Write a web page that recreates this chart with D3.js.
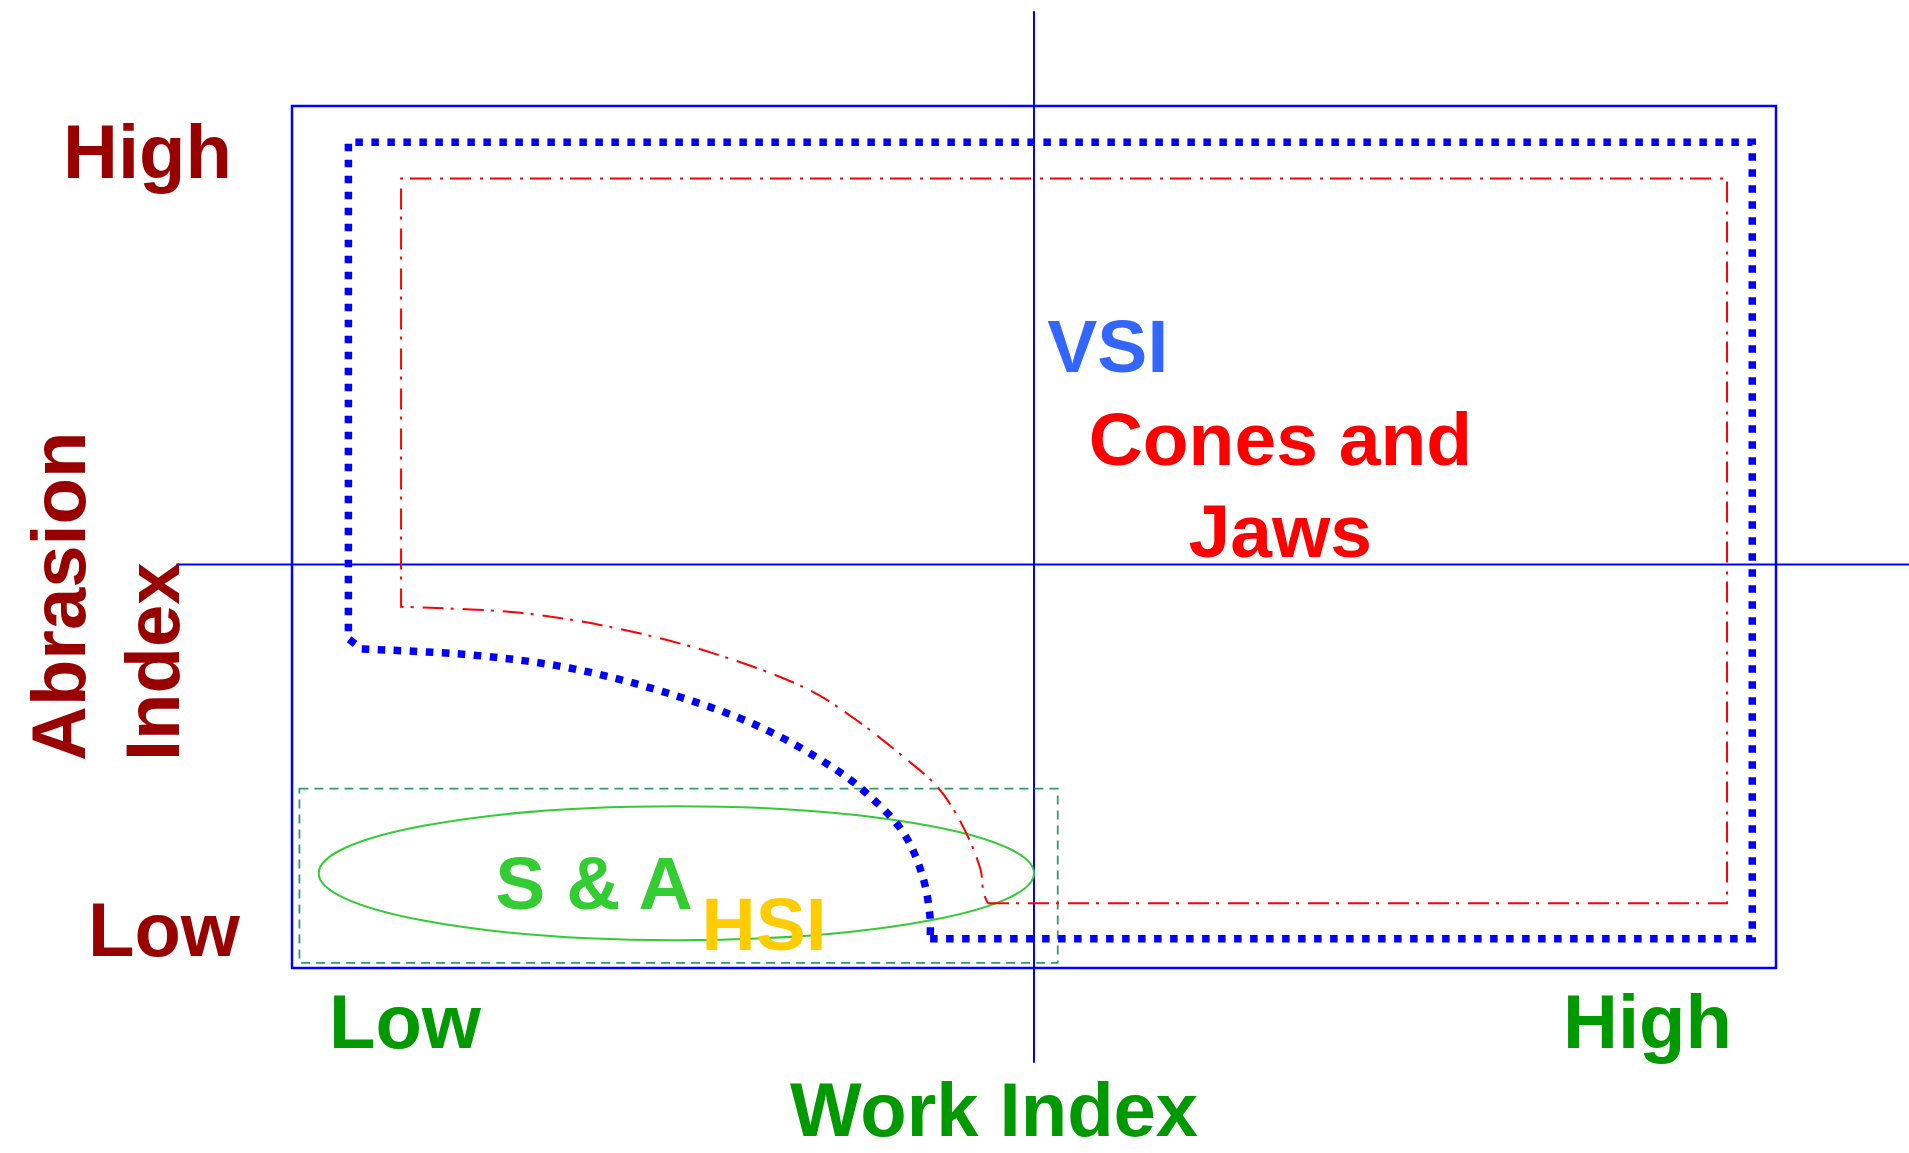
<!DOCTYPE html>
<html>
<head>
<meta charset="utf-8">
<script src="https://cdn.jsdelivr.net/npm/d3@7"></script>
<style>
  body { margin: 0; background: #fff; }
  text { font-family: "Liberation Sans", Arial, sans-serif; font-weight: bold; }
</style>
</head>
<body>
<div id="chart"></div>
<script>

// crusher map, both axes 0..100 (Work Index across, Abrasion Index up)
var quadSplit = [50, 46.8];
var vLineSpan = [-11, 111];
var hLineSpan = [-7.8, 109];

var vsiEdge = [[43.0,3.4],[98.4,3.4],[98.4,95.8],[3.8,95.8],[3.8,38.2],[4.7,37.0]];
var vsiCurve = [[4.7,37.0],[12.2,36.3],[18.7,34.8],[25.1,32.0],[31.5,28.0],[36.4,23.3],[38.7,20.3],[41.2,15.7],[42.5,10.6],[43.0,5.8],[43.0,3.4]];

var conesEdge = [[46.9,7.5],[96.7,7.5],[96.7,91.6],[7.35,91.6],[7.35,41.9]];
var conesCurve = [[7.35,41.9],[15.4,41.2],[21.9,39.4],[28.4,36.5],[34.8,32.3],[38.0,28.8],[41.2,24.5],[43.5,21.0],[45.1,16.8],[46.4,11.4],[46.6,8.7],[46.9,7.5]];

var hsiBox = [0.5, 0.6, 51.6, 20.8];        // x0, y0, x1, y1
var saEllipse = [25.9, 11.0, 24.1, 7.77];   // cx, cy, rx, ry

var regionLabels = ["VSI", "Cones and", "Jaws", "S & A", "HSI"];
var regionColors = ["#3366ff", "#ff0000", "#ff0000", "#33cc33", "#ffcc00"];
var regionAnchor = ["start", "middle", "middle", "start", "start"];
var regionPos = [[50.9,69.1],[66.6,58.4],[66.6,47.7],[13.7,6.8],[27.6,2.1]];

var xTickLabels = ["Low", "High"];
var yTickLabels = ["High", "Low"];
var xTitle = "Work Index";
var yTitle = ["Abrasion", "Index"];

var margin = { top: 106, right: 133, bottom: 185, left: 292 };
var width = 1909 - margin.left - margin.right,
    height = 1153 - margin.top - margin.bottom;

var svg = d3.select("#chart")
  .append("svg")
  .attr("width", 1909)
  .attr("height", 1153);

var g = svg.append("g")
  .attr("transform", "translate(" + margin.left + "," + margin.top + ")");

var x = d3.scaleLinear().domain([0, 100]).range([0, width]),
    y = d3.scaleLinear().domain([0, 100]).range([height, 0]);

var straight = d3.line()
  .x(function(d) { return x(d[0]); })
  .y(function(d) { return y(d[1]); });

var curved = d3.line()
  .curve(d3.curveCatmullRom.alpha(0.5))
  .x(function(d) { return x(d[0]); })
  .y(function(d) { return y(d[1]); });

function joinPath(edge, curve){
  return straight(edge) + curved(curve).replace(/^M/, "L");
}

// frame
g.append("rect")
  .attr("x", x(0))
  .attr("y", y(100))
  .attr("width", x(100) - x(0))
  .attr("height", y(0) - y(100))
  .attr("fill", "none")
  .attr("stroke", "#0000ff")
  .attr("stroke-width", 2.5);

// quadrant lines
g.append("line")
  .attr("x1", x(quadSplit[0])).attr("x2", x(quadSplit[0]))
  .attr("y1", y(vLineSpan[1])).attr("y2", y(vLineSpan[0]))
  .attr("stroke", "#0000ff")
  .attr("stroke-width", 2);

g.append("line")
  .attr("x1", x(hLineSpan[0])).attr("x2", x(hLineSpan[1]))
  .attr("y1", y(quadSplit[1])).attr("y2", y(quadSplit[1]))
  .attr("stroke", "#0000ff")
  .attr("stroke-width", 2);

// HSI box
g.append("rect")
  .attr("x", x(hsiBox[0]))
  .attr("y", y(hsiBox[3]))
  .attr("width", x(hsiBox[2]) - x(hsiBox[0]))
  .attr("height", y(hsiBox[1]) - y(hsiBox[3]))
  .attr("fill", "none")
  .attr("stroke", "#339966")
  .attr("stroke-width", 1.8)
  .attr("stroke-dasharray", "9,6");

// S & A ellipse
g.append("ellipse")
  .attr("cx", x(saEllipse[0]))
  .attr("cy", y(saEllipse[1]))
  .attr("rx", x(saEllipse[2]) - x(0))
  .attr("ry", y(0) - y(saEllipse[3]))
  .attr("fill", "none")
  .attr("stroke", "#33cc33")
  .attr("stroke-width", 2);

// VSI region
g.append("path")
  .attr("d", joinPath(vsiEdge, vsiCurve))
  .attr("fill", "none")
  .attr("stroke", "#0000ff")
  .attr("stroke-width", 7.5)
  .attr("stroke-dasharray", "7.5,8.5");

// cones and jaws region
g.append("path")
  .attr("d", joinPath(conesEdge, conesCurve))
  .attr("fill", "none")
  .attr("stroke", "#ff0000")
  .attr("stroke-width", 2)
  .attr("stroke-dasharray", "21,7,3,9");

g.selectAll(".region_label")
  .data(regionLabels)
  .enter().append("text")
  .attr("class", "region_label")
  .attr("x", function(d, i) { return x(regionPos[i][0]); })
  .attr("y", function(d, i) { return y(regionPos[i][1]); })
  .attr("text-anchor", function(d, i) { return regionAnchor[i]; })
  .attr("fill", function(d, i) { return regionColors[i]; })
  .style("font-size", "75px")
  .text(function(d) { return d; });

// axis words
g.selectAll(".xtick")
  .data(xTickLabels)
  .enter().append("text")
  .attr("class", "xtick")
  .attr("x", function(d, i) { return i == 0 ? 37 : width - 213; })
  .attr("y", height + 80)
  .attr("fill", "#009900")
  .style("font-size", "76px")
  .text(function(d) { return d; });

g.append("text")
  .attr("x", x(quadSplit[0]) - 40)
  .attr("y", height + 168)
  .attr("text-anchor", "middle")
  .attr("fill", "#009900")
  .style("font-size", "76px")
  .text(xTitle);

g.selectAll(".ytick")
  .data(yTickLabels)
  .enter().append("text")
  .attr("class", "ytick")
  .attr("x", function(d, i) { return i == 0 ? -229 : -204; })
  .attr("y", function(d, i) { return i == 0 ? 72 : height - 12; })
  .attr("fill", "#990000")
  .style("font-size", "76px")
  .text(function(d) { return d; });

g.selectAll(".ytitle")
  .data(yTitle)
  .enter().append("text")
  .attr("class", "ytitle")
  .attr("transform", function(d, i) { return "translate(" + (i == 0 ? -207 : -113) + "," + (height - 207) + ")rotate(-90)"; })
  .attr("fill", "#990000")
  .style("font-size", "76px")
  .text(function(d) { return d; });

</script>
</body>
</html>
